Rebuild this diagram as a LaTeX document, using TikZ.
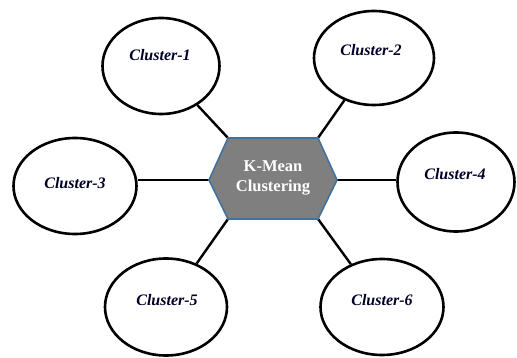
\documentclass[tikz,border=0pt]{standalone}
\usepackage{fontspec}
\setmainfont{Liberation Serif}
\usetikzlibrary{shapes.geometric}
\definecolor{hexfill}{HTML}{7F7F7F}
\definecolor{hexline}{HTML}{41719C}
\begin{document}
\begin{tikzpicture}[x=1pt,y=-1pt,
  clbox/.style={draw=black, line width=2.6pt, ellipse, inner sep=0pt},
  cltext/.style={font=\fontsize{16}{18}\selectfont\bfseries\itshape, text=black!85!blue},
  conn/.style={draw=black, line width=2.4pt}]
\useasboundingbox (0,0) rectangle (517,358);
% hexagon corners
\coordinate (hl) at (209,180);
\coordinate (htl) at (228,138);
\coordinate (htr) at (318,138);
\coordinate (hr) at (337,180);
\coordinate (hbr) at (318,219);
\coordinate (hbl) at (228,219);
% clusters
\node[clbox, minimum width=117pt, minimum height=96pt] (c1) at (161,66) {};
\node[clbox, minimum width=120pt, minimum height=94pt] (c2) at (374,58) {};
\node[clbox, minimum width=123pt, minimum height=96pt] (c3) at (75,186) {};
\node[clbox, minimum width=117pt, minimum height=99pt] (c4) at (456,182) {};
\node[clbox, minimum width=122pt, minimum height=97pt] (c5) at (166,307) {};
\node[clbox, minimum width=123pt, minimum height=96pt] (c6) at (382,307) {};
\node[cltext] (t1) at (160,55) {Cluster-1};
\node[cltext] (t2) at (371,50) {Cluster-2};
\node[cltext] (t3) at (75,183) {Cluster-3};
\node[cltext] (t4) at (455,174) {Cluster-4};
\node[cltext] (t5) at (167,300) {Cluster-5};
\node[cltext] (t6) at (382,300) {Cluster-6};
% connectors
\draw[conn] (htl) -- (c1);
\draw[conn] (htr) -- (c2);
\draw[conn] (hl) -- (hl -| c3.east);
\draw[conn] (hr) -- (hr -| c4.west);
\draw[conn] (hbl) -- (c5);
\draw[conn] (hbr) -- (c6);
% hexagon
\draw[fill=hexfill, draw=hexline, line width=1.6pt] (hl) -- (htl) -- (htr) -- (hr) -- (hbr) -- (hbl) -- cycle;
\node[text=white, font=\fontsize{16.5}{20}\selectfont\bfseries, align=center] (hx) at (273,178) {K-Mean\\Clustering};
\end{tikzpicture}
\end{document}
